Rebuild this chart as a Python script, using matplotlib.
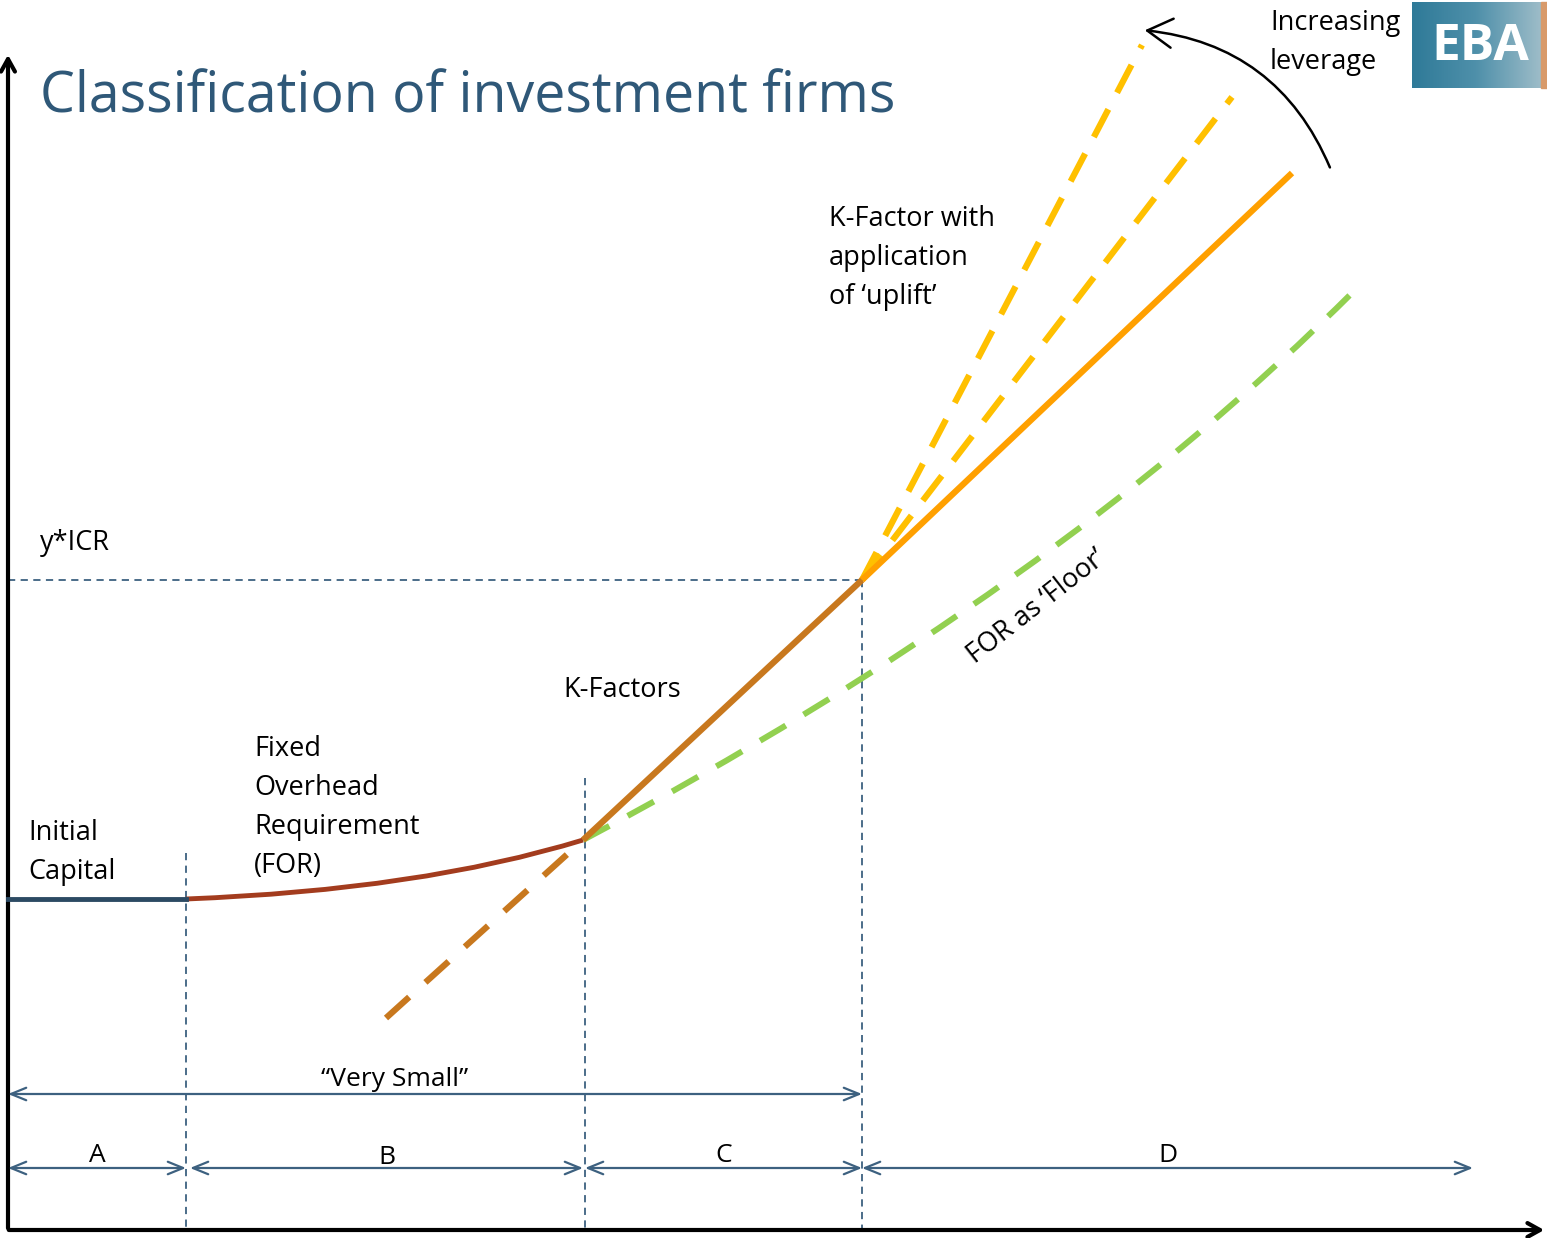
import numpy as np
import matplotlib.pyplot as plt
from matplotlib.patches import FancyArrowPatch, Rectangle, PathPatch
from matplotlib.path import Path

# schematic coordinates (canvas units, y grows downward)
initial_x = [8, 186]
initial_y = [899, 899]
# quadratic bezier control points
for_x = [186, 420, 583]
for_y = [899, 890, 840]
floor_x = [583, 1055, 1355]
floor_y = [840, 590, 290]
kfac_dash_x = [386, 583]
kfac_dash_y = [1018, 840]
kfac_x = [583, 862]
kfac_y = [840, 580]
kfac_up_x = [862, 1292]
kfac_up_y = [580, 173]
uplift1_x = [862, 1142]
uplift1_y = [580, 45]
uplift2_x = [862, 1232]
uplift2_y = [580, 97]
dividers_x = [186, 585, 862]
dividers_top = [853, 778, 580]
icr_y = 580
segments = [("A", 8, 186), ("B", 190, 583), ("C", 585, 862), ("D", 862, 1473)]
seg_label_y = [1155, 1157, 1155, 1155]

navy = "#3d6180"
font = ["Open Sans", "DejaVu Sans"]

fig = plt.figure(figsize=(15.47, 12.38), dpi=100)
ax = fig.add_axes([0, 0, 1, 1])
ax.set_xlim(0, 1547)
ax.set_ylim(1238, 0)
ax.axis("off")


def bezier(xs, ys, **kw):
    p = Path(list(zip(xs, ys)), [Path.MOVETO, Path.CURVE3, Path.CURVE3])
    ax.add_patch(PathPatch(p, fill=False, **kw))


# axes arrows
ax.annotate("", xy=(8, 52), xytext=(8, 1231),
            arrowprops=dict(arrowstyle="->,head_length=0.9,head_width=0.5", color="black", lw=3))
ax.annotate("", xy=(1547, 1230), xytext=(6, 1230),
            arrowprops=dict(arrowstyle="->,head_length=0.9,head_width=0.5", color="black", lw=3))

# guides
for x, top in zip(dividers_x, dividers_top):
    ax.plot([x, x], [top, 1228], color=navy, lw=1.3, ls=(0, (4, 3)))
ax.plot([8, 862], [icr_y, icr_y], color=navy, lw=1.3, ls=(0, (4, 3)))

# measurement arrows
ap = dict(arrowstyle="<->,head_length=1.1,head_width=0.45", color=navy, lw=1.6,
          shrinkA=0, shrinkB=0)
ax.annotate("", xy=(8, 1094), xytext=(862, 1094), arrowprops=ap)
for (lab, x0, x1), ly in zip(segments, seg_label_y):
    ax.annotate("", xy=(x0, 1168), xytext=(x1, 1168), arrowprops=ap)
    ax.text((x0 + x1) / 2, ly, lab, ha="center", va="center", fontsize=19, family=font)
ax.text(395, 1079, "\u201cVery Small\u201d", ha="center", va="center", fontsize=19, family=font)

# curves
bezier(floor_x, floor_y, edgecolor="#92d050", lw=4.3, ls=(0, (5, 3.5)), zorder=3)
ax.plot(uplift1_x, uplift1_y, color="#ffc000", lw=4.5, ls=(0, (5, 3)), zorder=3)
ax.plot(uplift2_x, uplift2_y, color="#ffc000", lw=4.5, ls=(0, (5, 3)), zorder=3)
ax.plot(kfac_up_x, kfac_up_y, color="#ffa000", lw=4.5, solid_capstyle="butt", zorder=4)
ax.plot(kfac_dash_x, kfac_dash_y, color="#c8781e", lw=4.5, ls=(0, (5, 3.5)), zorder=4)
bezier(for_x, for_y, edgecolor="#a33c1e", lw=3.5, zorder=4)
ax.plot(kfac_x, kfac_y, color="#c8781e", lw=4.5, solid_capstyle="butt", zorder=5)
ax.plot(initial_x, initial_y, color="#2c4a63", lw=3.5, zorder=4)

# curved leverage arrow
ax.add_patch(FancyArrowPatch((1331, 170), (1142, 30), connectionstyle="arc3,rad=0.3",
                             arrowstyle="->,head_length=12,head_width=7", color="black",
                             lw=1.8, mutation_scale=1.5))

# labels
ax.text(40, 98, "Classification of investment firms", fontsize=40, color="#2f5878",
        va="center", family=font)
txt = dict(fontsize=19.5, family=font, va="top", linespacing=1.52)
ax.text(28, 819, "Initial\nCapital", **txt)
ax.text(254, 735, "Fixed\nOverhead\nRequirement\n(FOR)", **txt)
ax.text(563, 676, "K-Factors", **txt)
ax.text(829, 205, "K-Factor with\napplication\nof \u2018uplift\u2019", **txt)
ax.text(40, 529, "y*ICR", **txt)
ax.text(1270, 9, "Increasing\nleverage", **txt)
ax.text(1037, 607, "FOR as \u2018Floor\u2019", fontsize=19.5, family=font, rotation=38,
        ha="center", va="center", rotation_mode="anchor")

# EBA badge
grad = np.linspace(0, 1, 200)[None, :].repeat(20, axis=0)
ax.imshow(grad, cmap=plt.matplotlib.colors.LinearSegmentedColormap.from_list(
    "eba", ["#2f7a98", "#4f90aa", "#9dbcc8"]), extent=(1412, 1541, 88, 2), aspect="auto", zorder=2)
ax.add_patch(Rectangle((1541, 2), 6, 86, color="#d89a6a", zorder=2))
ax.text(1480, 47, "EBA", color="white", fontsize=37, fontweight="bold", family=font,
        ha="center", va="center", zorder=3)

fig.savefig("out.png", dpi=100)
